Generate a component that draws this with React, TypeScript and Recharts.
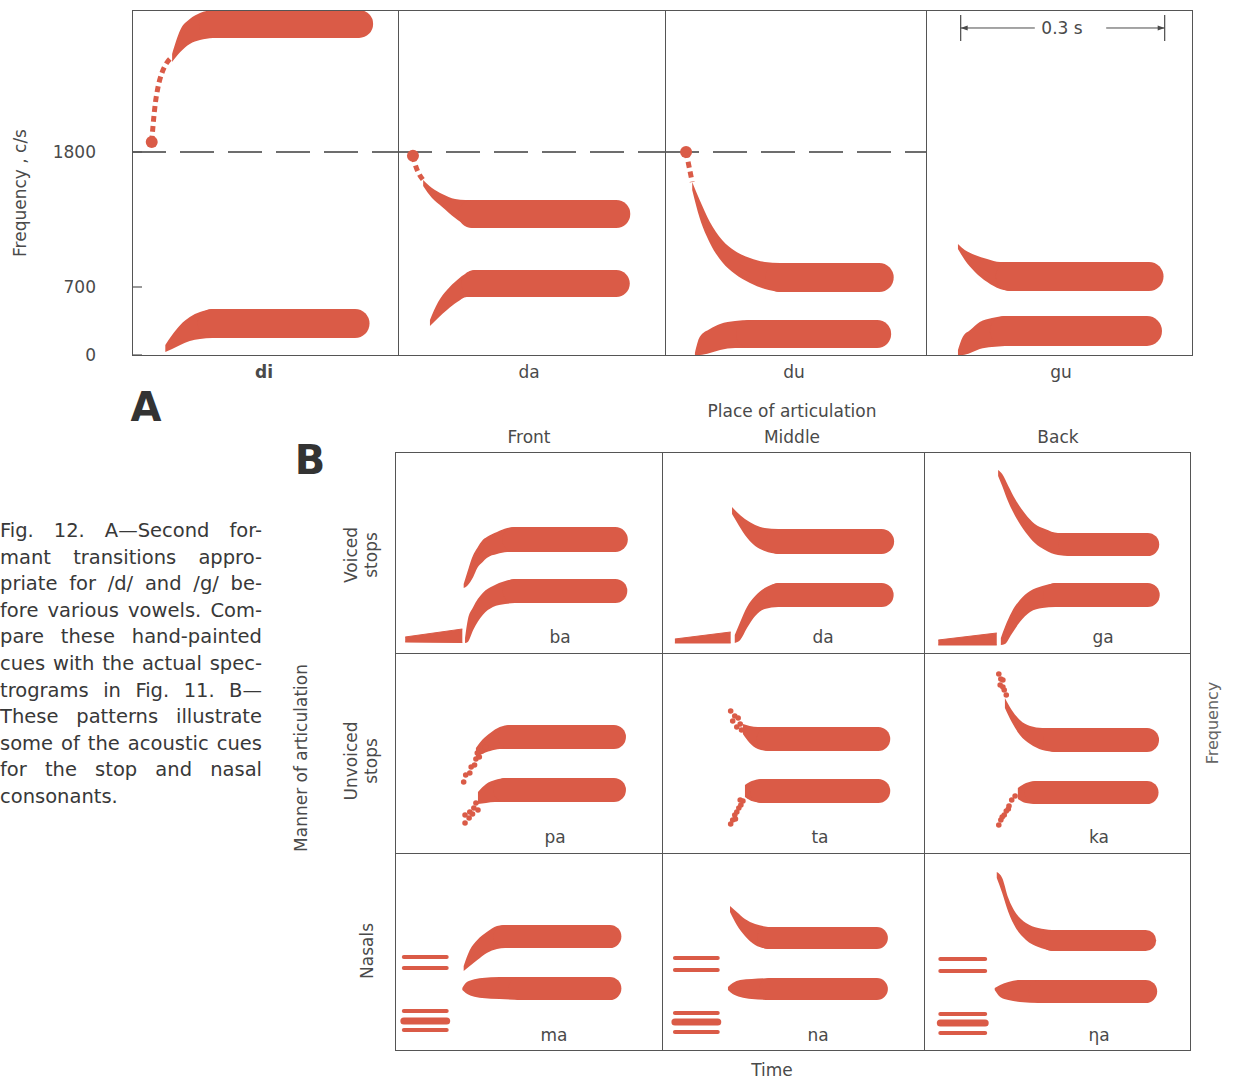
import React from 'react';
import { ComposedChart, Area, Line, Scatter, XAxis, YAxis, ReferenceLine } from 'recharts';

// ================= DATA =================
// Panel A: second/first formant transitions (time in s, frequency in c/s)
const A_SYLLABLES = ['di', 'da', 'du', 'gu'];
const A_Y_TICKS = [0, 700, 1800];
const A_Y_BREAKS = [0, 700, 1800, 3000];
const D_LOCUS = 1800;
const SCALE_BAR_T = [0.051, 0.351];
const SCALE_BAR_GAP_T = [0.16, 0.265];
const SCALE_BAR_F = 2848;
const SCALE_BAR_TICK_F = [2738, 2958];

// band points: [t, low, high]; steady: [tStart, tEnd, centre]; dotted: [t, f]
const DI_F2_DOTS = [[0.029, 1885], [0.031, 2028], [0.034, 2197], [0.038, 2341], [0.044, 2468], [0.051, 2552], [0.059, 2603]];
const DI_F2_BAND = [[0.059, 2561, 2628], [0.071, 2645, 2831], [0.085, 2713, 2924], [0.1, 2746, 2975], [0.119, 2763, 3000]];
const DI_F2_STEADY = [0.119, 0.334, 2882];
const DI_F1_BAND = [[0.049, 31, 103], [0.059, 62, 206], [0.071, 103, 309], [0.085, 144, 391], [0.1, 165, 442], [0.118, 175, 473]];
const DI_F1_STEADY = [0.118, 0.328, 324];

const DA_F2_DOTS = [[0.022, 1770], [0.026, 1686], [0.031, 1621], [0.037, 1572]];
const DA_F2_BAND = [[0.037, 1523, 1572], [0.05, 1425, 1507], [0.065, 1352, 1458], [0.084, 1262, 1417], [0.099, 1205, 1409], [0.109, 1181, 1409]];
const DA_F2_STEADY = [0.109, 0.321, 1295];
const DA_F1_BAND = [[0.047, 298, 360], [0.059, 381, 545], [0.072, 463, 669], [0.087, 545, 757], [0.101, 597, 814], [0.113, 597, 838]];
const DA_F1_STEADY = [0.113, 0.321, 729];

const DU_F2_DOTS = [[0.031, 1800], [0.034, 1719], [0.037, 1637], [0.04, 1556]];
const DU_F2_BAND = [[0.04, 1490, 1556], [0.051, 1262, 1409], [0.066, 1059, 1230], [0.084, 904, 1083], [0.103, 806, 994], [0.125, 733, 936], [0.147, 679, 904], [0.169, 648, 896]];
const DU_F2_STEADY = [0.169, 0.315, 777];
const DU_F1_BAND = [[0.044, 0, 20], [0.051, 0, 185], [0.066, 21, 268], [0.081, 51, 319], [0.103, 72, 350], [0.125, 72, 360]];
const DU_F1_STEADY = [0.125, 0.312, 216];

const GU_F2_BAND = [[0.047, 1010, 1050], [0.057, 920, 1001], [0.072, 823, 961], [0.09, 741, 928], [0.109, 679, 904], [0.124, 659, 904]];
const GU_F2_STEADY = [0.124, 0.328, 786];
const GU_F1_BAND = [[0.047, 0, 51], [0.054, 0, 185], [0.065, 21, 257], [0.079, 62, 340], [0.097, 82, 381], [0.116, 93, 401]];
const GU_F1_STEADY = [0.116, 0.325, 247];

// Panel B: stop and nasal consonants before /a/
const B_PLACES = ['Front', 'Middle', 'Back'];
const B_MANNERS = [['Voiced', 'stops'], ['Unvoiced', 'stops'], ['Nasals']];
const B_SYLLABLES = [['ba', 'da', 'ga'], ['pa', 'ta', 'ka'], ['ma', 'na', 'ηa']];

const BA_F2_BAND = [[0.101, 650, 690], [0.106, 670, 800], [0.115, 760, 980], [0.121, 850, 1050], [0.129, 910, 1130], [0.135, 950, 1160], [0.15, 990, 1210], [0.165, 1010, 1250], [0.176, 1010, 1260]];
const BA_F2_STEADY = [0.176, 0.324, 1135];
const BA_F1_BAND = [[0.103, 100, 150], [0.107, 110, 330], [0.115, 230, 460], [0.129, 380, 600], [0.144, 460, 670], [0.162, 490, 720], [0.176, 500, 740]];
const BA_F1_STEADY = [0.176, 0.324, 620];
const BA_VOICE = [[0.015, 110, 160], [0.099, 105, 240]];

const BDA_F2_BAND = [[0.103, 1390, 1460], [0.11, 1310, 1410], [0.122, 1180, 1340], [0.137, 1070, 1280], [0.151, 1020, 1250], [0.171, 990, 1240]];
const BDA_F2_STEADY = [0.171, 0.323, 1115];
const BDA_F1_BAND = [[0.107, 100, 180], [0.115, 130, 310], [0.125, 250, 460], [0.137, 370, 570], [0.151, 440, 650], [0.171, 460, 700]];
const BDA_F1_STEADY = [0.171, 0.323, 580];
const BDA_VOICE = [[0.019, 100, 140], [0.101, 100, 210]];

const GA_F2_BAND = [[0.109, 1770, 1830], [0.115, 1670, 1790], [0.124, 1510, 1670], [0.134, 1370, 1540], [0.149, 1210, 1390], [0.163, 1100, 1290], [0.178, 1030, 1240], [0.197, 980, 1200], [0.215, 970, 1200]];
const GA_F2_STEADY = [0.215, 0.329, 1085];
const GA_F1_BAND = [[0.113, 80, 150], [0.119, 90, 260], [0.129, 190, 410], [0.141, 310, 530], [0.156, 410, 620], [0.174, 450, 670], [0.193, 460, 700]];
const GA_F1_STEADY = [0.193, 0.329, 580];
const GA_VOICE = [[0.021, 80, 130], [0.107, 80, 200]];

const PA_F2_BAND = [[0.119, 950, 1050], [0.128, 990, 1130], [0.14, 1020, 1200], [0.154, 1040, 1260], [0.169, 1040, 1280]];
const PA_F2_STEADY = [0.169, 0.322, 1160];
const PA_F2_NOISE = [[0.101, 710], [0.104, 780], [0.11, 800], [0.112, 860], [0.117, 880], [0.119, 940], [0.124, 960], [0.121, 1000], [0.128, 1020], [0.133, 1060]];
const PA_F1_BAND = [[0.122, 490, 610], [0.134, 500, 690], [0.147, 510, 730], [0.162, 510, 750]];
const PA_F1_STEADY = [0.162, 0.322, 630];
const PA_F1_NOISE = [[0.103, 300], [0.103, 380], [0.109, 350], [0.11, 410], [0.116, 450], [0.119, 500], [0.122, 430], [0.114, 390]];

const TA_F2_BAND = [[0.119, 1190, 1290], [0.129, 1100, 1270], [0.141, 1040, 1260], [0.157, 1020, 1260]];
const TA_F2_STEADY = [0.157, 0.318, 1140];
const TA_F2_NOISE = [[0.101, 1420], [0.107, 1370], [0.104, 1320], [0.112, 1350], [0.115, 1290], [0.11, 1260], [0.117, 1230]];
const TA_F1_BAND = [[0.122, 560, 680], [0.132, 520, 720], [0.147, 500, 740]];
const TA_F1_STEADY = [0.147, 0.318, 620];
const TA_F1_NOISE = [[0.101, 290], [0.104, 330], [0.107, 380], [0.11, 410], [0.113, 450], [0.116, 480], [0.115, 530], [0.119, 520], [0.108, 340]];

const KA_F2_BAND = [[0.119, 1450, 1550], [0.129, 1310, 1430], [0.141, 1180, 1330], [0.156, 1090, 1270], [0.174, 1030, 1250], [0.193, 1010, 1250]];
const KA_F2_STEADY = [0.193, 0.328, 1130];
const KA_F2_NOISE = [[0.11, 1790], [0.116, 1730], [0.112, 1680], [0.118, 1630], [0.121, 1580], [0.113, 1740], [0.116, 1660]];
const KA_F1_BAND = [[0.138, 540, 650], [0.15, 500, 700], [0.165, 490, 720]];
const KA_F1_STEADY = [0.165, 0.328, 605];
const KA_F1_NOISE = [[0.11, 280], [0.113, 330], [0.118, 380], [0.121, 420], [0.125, 470], [0.129, 530], [0.134, 570], [0.115, 360], [0.124, 440]];

const MA_F2_BAND = [[0.101, 790, 840], [0.11, 840, 1000], [0.121, 900, 1100], [0.135, 970, 1180], [0.15, 1010, 1240], [0.162, 1020, 1250]];
const MA_F2_STEADY = [0.162, 0.316, 1135];
const MA_F1_BAND = [[0.099, 600, 620], [0.104, 570, 670], [0.113, 540, 700], [0.128, 520, 720], [0.154, 510, 730], [0.184, 500, 730]];
const MA_F1_STEADY = [0.184, 0.316, 615];
const MA_MURMUR_T = [0.013, 0.076];
const MA_MURMUR_F = [930, 820, 390, 290, 200];

const NA_F2_BAND = [[0.1, 1380, 1440], [0.11, 1250, 1380], [0.122, 1140, 1310], [0.137, 1050, 1260], [0.156, 1010, 1230]];
const NA_F2_STEADY = [0.156, 0.316, 1120];
const NA_F1_BAND = [[0.097, 600, 630], [0.104, 560, 670], [0.115, 530, 700], [0.132, 510, 710], [0.159, 500, 720]];
const NA_F1_STEADY = [0.159, 0.316, 610];
const NA_MURMUR_T = [0.019, 0.082];
const NA_MURMUR_F = [920, 800, 370, 280, 180];

const NGA_F2_BAND = [[0.107, 1720, 1780], [0.115, 1570, 1720], [0.124, 1380, 1520], [0.135, 1220, 1370], [0.15, 1100, 1270], [0.168, 1030, 1220], [0.188, 990, 1200]];
const NGA_F2_STEADY = [0.188, 0.326, 1095];
const NGA_F1_BAND = [[0.104, 600, 620], [0.112, 530, 650], [0.124, 500, 680], [0.141, 480, 700], [0.171, 470, 700]];
const NGA_F1_STEADY = [0.171, 0.326, 585];
const NGA_MURMUR_T = [0.024, 0.09];
const NGA_MURMUR_F = [910, 790, 360, 270, 170];

const CAPTION_LINES = [
  'Fig. 12. A—Second for-',
  'mant transitions appro-',
  'priate for /d/ and /g/ be-',
  'fore various vowels. Com-',
  'pare these hand-painted',
  'cues with the actual spec-',
  'trograms in Fig. 11. B—',
  'These patterns illustrate',
  'some of the acoustic cues',
  'for the stop and nasal',
  'consonants.',
];

// ================= STYLE / LAYOUT =================
const RED = '#da5b47';
const INK = '#4a4a4a';
const RULE = '#555555';
const FONT = "'DejaVu Sans', 'Liberation Sans', sans-serif";
const PX_PER_S = 680;
const A_TOP = 10;
const A_HEIGHT = 345;
const A_FRACS = [0, 68 / 345, 203 / 345, 1];
const A_COLS = [132, 398, 665, 926, 1192];
const B_COLS = [395, 662, 924, 1190];
const B_ROWS = [452, 653, 853, 1050];
const MURMUR_WIDTHS = [4, 4, 4, 7, 4];

// piecewise-linear (schematic) frequency scale used by the original drawing
function makeSchematicScale(breaks: number[], fracs: number[]): any {
  let dom = [breaks[0], breaks[breaks.length - 1]];
  let rng = [0, 1];
  const frac = (v: number) => {
    let i = 0;
    while (i < breaks.length - 2 && v > breaks[i + 1]) i++;
    return fracs[i] + ((v - breaks[i]) / (breaks[i + 1] - breaks[i])) * (fracs[i + 1] - fracs[i]);
  };
  const s: any = (v: any) => rng[0] + frac(Number(v)) * (rng[1] - rng[0]);
  s.domain = (d?: any) => {
    if (d === undefined) return dom.slice();
    dom = Array.from(d);
    return s;
  };
  s.range = (r?: any) => {
    if (r === undefined) return rng.slice();
    rng = Array.from(r);
    return s;
  };
  s.copy = () => makeSchematicScale(breaks, fracs).domain(dom).range(rng);
  s.ticks = () => breaks.slice();
  s.tickFormat = () => (v: number) => String(v);
  s.invert = (p: number) => {
    const f = (p - rng[0]) / (rng[1] - rng[0]);
    let i = 0;
    while (i < fracs.length - 2 && f > fracs[i + 1]) i++;
    return breaks[i] + ((f - fracs[i]) / (fracs[i + 1] - fracs[i])) * (breaks[i + 1] - breaks[i]);
  };
  return s;
}
const A_SCALE = makeSchematicScale(A_Y_BREAKS, A_FRACS);

// ---------- series builders ----------
const bandData = (b: number[][]) => b.map(([t, lo, hi]) => ({ t, r: [lo, hi] }));
const ptData = (p: number[][]) => p.map(([t, f]) => ({ t, f }));

function formant(id: string, band: number[][], steady: number[], width: number) {
  return [
    <Area key={id + '-band'} data={bandData(band)} dataKey="r" type="monotone" stroke="none" fill={RED} fillOpacity={1} dot={false} activeDot={false} isAnimationActive={false} />,
    <Line key={id + '-steady'} data={[{ t: steady[0], f: steady[2] }, { t: steady[1], f: steady[2] }]} dataKey="f" type="linear" stroke={RED} strokeWidth={width} strokeLinecap="round" dot={false} activeDot={false} isAnimationActive={false} />,
  ];
}

function dotted(id: string, pts: number[][]) {
  return [
    <Line key={id + '-dots'} data={ptData(pts)} dataKey="f" type="monotone" stroke={RED} strokeWidth={5} strokeDasharray="6 4" dot={false} activeDot={false} isAnimationActive={false} />,
    <Scatter key={id + '-start'} data={ptData([pts[0]])} dataKey="f" fill={RED} isAnimationActive={false} shape={(p: any) => <circle cx={p.cx} cy={p.cy} r={6} fill={RED} />} />,
  ];
}

function noise(id: string, pts: number[][]) {
  return (
    <Scatter key={id + '-noise'} data={ptData(pts)} dataKey="f" fill={RED} isAnimationActive={false} shape={(p: any) => <circle cx={p.cx} cy={p.cy} r={2.8} fill={RED} />} />
  );
}

function voiceBar(id: string, band: number[][]) {
  return (
    <Area key={id + '-voice'} data={bandData(band)} dataKey="r" type="linear" stroke={RED} strokeWidth={1} fill={RED} fillOpacity={1} dot={false} activeDot={false} isAnimationActive={false} />
  );
}

function murmur(id: string, ts: number[], fs: number[]) {
  return fs.map((f, i) => (
    <Line key={id + '-m' + i} data={[{ t: ts[0], f }, { t: ts[1], f }]} dataKey="f" type="linear" stroke={RED} strokeWidth={MURMUR_WIDTHS[i]} strokeLinecap="round" dot={false} activeDot={false} isAnimationActive={false} />
  ));
}

const arrowShape = (dir: number) => (p: any) => (
  <path d={`M${p.cx},${p.cy} l${dir * 7},-2.5 l0,5 z`} fill={INK} />
);

// ---------- panel A ----------
const A_SERIES: Record<string, any[]> = {
  di: [...formant('di2', DI_F2_BAND, DI_F2_STEADY, 28), ...dotted('di2', DI_F2_DOTS), ...formant('di1', DI_F1_BAND, DI_F1_STEADY, 29)],
  da: [...formant('da2', DA_F2_BAND, DA_F2_STEADY, 28), ...dotted('da2', DA_F2_DOTS), ...formant('da1', DA_F1_BAND, DA_F1_STEADY, 27)],
  du: [...formant('du2', DU_F2_BAND, DU_F2_STEADY, 29), ...dotted('du2', DU_F2_DOTS), ...formant('du1', DU_F1_BAND, DU_F1_STEADY, 28)],
  gu: [...formant('gu2', GU_F2_BAND, GU_F2_STEADY, 29), ...formant('gu1', GU_F1_BAND, GU_F1_STEADY, 30)],
};

const ATick = (props: any) => {
  const { x, y, payload } = props;
  return (
    <g>
      <line x1={x + 36} x2={x + 46} y1={y} y2={y} stroke={RULE} strokeWidth={1.2} />
      <text x={x} y={y} textAnchor="end" dominantBaseline="central" fontFamily={FONT} fontSize={17} fill={INK}>
        {payload.value}
      </text>
    </g>
  );
};

function PanelA({ idx }: { idx: number }) {
  const name = A_SYLLABLES[idx];
  const plotLeft = A_COLS[idx];
  const plotW = A_COLS[idx + 1] - plotLeft;
  const withAxis = idx === 0;
  const left = withAxis ? 0 : plotLeft;
  const width = withAxis ? A_COLS[1] : plotW;
  const pad = withAxis ? 20 : 0;
  return (
    <div style={{ position: 'absolute', left, top: A_TOP, width, height: A_HEIGHT + pad }}>
      <ComposedChart width={width} height={A_HEIGHT + pad} margin={{ top: 0, right: 0, bottom: pad, left: 0 }}>
        <XAxis type="number" dataKey="t" domain={[0, plotW / PX_PER_S]} hide allowDataOverflow />
        {withAxis ? (
          <YAxis type="number" domain={[0, 3000]} scale={A_SCALE} ticks={A_Y_TICKS} interval={0} width={plotLeft} axisLine={false} tickLine={false} tickSize={0} tickMargin={36} tick={<ATick />} allowDataOverflow />
        ) : (
          <YAxis type="number" domain={[0, 3000]} scale={A_SCALE} hide allowDataOverflow />
        )}
        {idx < 3 && <ReferenceLine y={D_LOCUS} stroke="#3e3e3e" strokeWidth={1.3} strokeDasharray="34 14" />}
        {idx === 3 && [
          <ReferenceLine key="sb1" segment={[{ x: SCALE_BAR_T[0], y: SCALE_BAR_F }, { x: SCALE_BAR_GAP_T[0], y: SCALE_BAR_F }]} stroke={INK} strokeWidth={1} />,
          <ReferenceLine key="sb2" segment={[{ x: SCALE_BAR_GAP_T[1], y: SCALE_BAR_F }, { x: SCALE_BAR_T[1], y: SCALE_BAR_F }]} stroke={INK} strokeWidth={1} />,
          <ReferenceLine key="sb3" segment={[{ x: SCALE_BAR_T[0], y: SCALE_BAR_TICK_F[0] }, { x: SCALE_BAR_T[0], y: SCALE_BAR_TICK_F[1] }]} stroke={INK} strokeWidth={1.2} />,
          <ReferenceLine key="sb4" segment={[{ x: SCALE_BAR_T[1], y: SCALE_BAR_TICK_F[0] }, { x: SCALE_BAR_T[1], y: SCALE_BAR_TICK_F[1] }]} stroke={INK} strokeWidth={1.2} />,
          <Scatter key="sbl" data={[{ t: SCALE_BAR_T[0], f: SCALE_BAR_F }]} dataKey="f" isAnimationActive={false} shape={arrowShape(1)} />,
          <Scatter key="sbr" data={[{ t: SCALE_BAR_T[1], f: SCALE_BAR_F }]} dataKey="f" isAnimationActive={false} shape={arrowShape(-1)} />,
        ]}
        {A_SERIES[name]}
      </ComposedChart>
    </div>
  );
}

// ---------- panel B ----------
const B_SERIES: any[][][] = [
  [
    [voiceBar('ba', BA_VOICE), ...formant('ba2', BA_F2_BAND, BA_F2_STEADY, 25), ...formant('ba1', BA_F1_BAND, BA_F1_STEADY, 24)],
    [voiceBar('bda', BDA_VOICE), ...formant('bda2', BDA_F2_BAND, BDA_F2_STEADY, 25), ...formant('bda1', BDA_F1_BAND, BDA_F1_STEADY, 24)],
    [voiceBar('ga', GA_VOICE), ...formant('ga2', GA_F2_BAND, GA_F2_STEADY, 23), ...formant('ga1', GA_F1_BAND, GA_F1_STEADY, 24)],
  ],
  [
    [...formant('pa2', PA_F2_BAND, PA_F2_STEADY, 24), noise('pa2', PA_F2_NOISE), ...formant('pa1', PA_F1_BAND, PA_F1_STEADY, 24), noise('pa1', PA_F1_NOISE)],
    [...formant('ta2', TA_F2_BAND, TA_F2_STEADY, 24), noise('ta2', TA_F2_NOISE), ...formant('ta1', TA_F1_BAND, TA_F1_STEADY, 24), noise('ta1', TA_F1_NOISE)],
    [...formant('ka2', KA_F2_BAND, KA_F2_STEADY, 24), noise('ka2', KA_F2_NOISE), ...formant('ka1', KA_F1_BAND, KA_F1_STEADY, 23), noise('ka1', KA_F1_NOISE)],
  ],
  [
    [...murmur('ma', MA_MURMUR_T, MA_MURMUR_F), ...formant('ma2', MA_F2_BAND, MA_F2_STEADY, 23), ...formant('ma1', MA_F1_BAND, MA_F1_STEADY, 23)],
    [...murmur('na', NA_MURMUR_T, NA_MURMUR_F), ...formant('na2', NA_F2_BAND, NA_F2_STEADY, 22), ...formant('na1', NA_F1_BAND, NA_F1_STEADY, 22)],
    [...murmur('nga', NGA_MURMUR_T, NGA_MURMUR_F), ...formant('nga2', NGA_F2_BAND, NGA_F2_STEADY, 21), ...formant('nga1', NGA_F1_BAND, NGA_F1_STEADY, 23)],
  ],
];

function CellB({ row, col }: { row: number; col: number }) {
  const left = B_COLS[col];
  const top = B_ROWS[row];
  const w = B_COLS[col + 1] - left;
  const h = B_ROWS[row + 1] - top;
  return (
    <div style={{ position: 'absolute', left, top, width: w, height: h }}>
      <ComposedChart width={w} height={h} margin={{ top: 0, right: 0, bottom: 0, left: 0 }}>
        <XAxis type="number" dataKey="t" domain={[0, w / PX_PER_S]} hide allowDataOverflow />
        <YAxis type="number" domain={[0, h * 10]} hide allowDataOverflow />
        {B_SERIES[row][col]}
      </ComposedChart>
    </div>
  );
}

// ---------- text helpers ----------
const Txt = ({ x, y, children, size = 17, weight = 400, rotate = 0, color = INK }: any) => (
  <div
    style={{
      position: 'absolute',
      left: x,
      top: y,
      transform: `translate(-50%, -50%) rotate(${rotate}deg)`,
      fontFamily: FONT,
      fontSize: size,
      fontWeight: weight,
      color,
      whiteSpace: 'nowrap',
      lineHeight: 1,
    }}
  >
    {children}
  </div>
);

const Box = ({ x, y, w, h }: any) => (
  <div style={{ position: 'absolute', left: x, top: y, width: w, height: h, border: `1px solid ${RULE}`, boxSizing: 'border-box', pointerEvents: 'none' }} />
);
const VRule = ({ x, y1, y2 }: any) => <div style={{ position: 'absolute', left: x, top: y1, width: 1, height: y2 - y1, background: RULE }} />;
const HRule = ({ y, x1, x2 }: any) => <div style={{ position: 'absolute', left: x1, top: y, width: x2 - x1, height: 1, background: RULE }} />;

const A_LABEL_X = [264, 529, 794, 1061];
const B_LABEL_X = [[560, 823, 1103], [555, 820, 1099], [554, 818, 1099]];
const B_LABEL_Y = [637, 837, 1035];
const B_PLACE_X = [529, 792, 1058];
const B_MANNER_Y = [555, 761, 951];

export default function App() {
  return (
    <div style={{ position: 'absolute', left: 0, top: 0, width: 1234, height: 1080, background: '#fff', overflow: 'hidden', fontFamily: FONT }}>
      {/* Panel A */}
      {A_SYLLABLES.map((_, i) => (
        <PanelA key={i} idx={i} />
      ))}
      <Box x={A_COLS[0]} y={A_TOP} w={A_COLS[4] - A_COLS[0] + 1} h={A_HEIGHT + 1} />
      {[1, 2, 3].map((i) => (
        <VRule key={i} x={A_COLS[i]} y1={A_TOP} y2={A_TOP + A_HEIGHT} />
      ))}
      {A_SYLLABLES.map((s, i) => (
        <Txt key={s} x={A_LABEL_X[i]} y={372} weight={i === 0 ? 700 : 400}>
          {s}
        </Txt>
      ))}
      <Txt x={20} y={193} rotate={-90}>Frequency , c/s</Txt>
      <div style={{ position: 'absolute', left: 1038, top: 18, width: 50, height: 20, background: '#fff' }} />
      <Txt x={1062} y={28}>0.3 s</Txt>
      <Txt x={146} y={407} size={40} weight={700} color="#333">A</Txt>

      {/* Panel B */}
      <Txt x={310} y={460} size={40} weight={700} color="#333">B</Txt>
      <Txt x={792} y={411}>Place of articulation</Txt>
      {B_PLACES.map((p, i) => (
        <Txt key={p} x={B_PLACE_X[i]} y={437}>{p}</Txt>
      ))}
      {B_SERIES.map((r, ri) => r.map((_, ci) => <CellB key={ri + '-' + ci} row={ri} col={ci} />))}
      <Box x={B_COLS[0]} y={B_ROWS[0]} w={B_COLS[3] - B_COLS[0] + 1} h={B_ROWS[3] - B_ROWS[0] + 1} />
      <VRule x={B_COLS[1]} y1={B_ROWS[0]} y2={B_ROWS[3]} />
      <VRule x={B_COLS[2]} y1={B_ROWS[0]} y2={B_ROWS[3]} />
      <HRule y={B_ROWS[1]} x1={B_COLS[0]} x2={B_COLS[3]} />
      <HRule y={B_ROWS[2]} x1={B_COLS[0]} x2={B_COLS[3]} />
      {B_SYLLABLES.map((r, ri) =>
        r.map((s, ci) => (
          <Txt key={s + ri} x={B_LABEL_X[ri][ci]} y={B_LABEL_Y[ri]}>{s}</Txt>
        ))
      )}
      {B_MANNERS.map((m, i) =>
        m.length === 2 ? (
          <React.Fragment key={i}>
            <Txt x={351} y={B_MANNER_Y[i]} rotate={-90}>{m[0]}</Txt>
            <Txt x={371} y={B_MANNER_Y[i]} rotate={-90}>{m[1]}</Txt>
          </React.Fragment>
        ) : (
          <Txt key={i} x={367} y={B_MANNER_Y[i]} rotate={-90}>{m[0]}</Txt>
        )
      )}
      <Txt x={301} y={758} rotate={-90}>Manner of articulation</Txt>
      <Txt x={1213} y={723} rotate={-90} size={16} color="#666">Frequency</Txt>
      <Txt x={772} y={1070}>Time</Txt>

      {/* Caption */}
      {CAPTION_LINES.map((line, i) => (
        <div
          key={i}
          style={{
            position: 'absolute',
            left: 0,
            top: 518 + i * 26.6,
            width: 262,
            fontFamily: FONT,
            fontSize: 19.5,
            lineHeight: '26.6px',
            color: '#383838',
            textAlign: 'justify',
            textAlignLast: i === CAPTION_LINES.length - 1 ? 'left' : 'justify',
            whiteSpace: 'nowrap',
          }}
        >
          {line}
        </div>
      ))}
    </div>
  );
}
